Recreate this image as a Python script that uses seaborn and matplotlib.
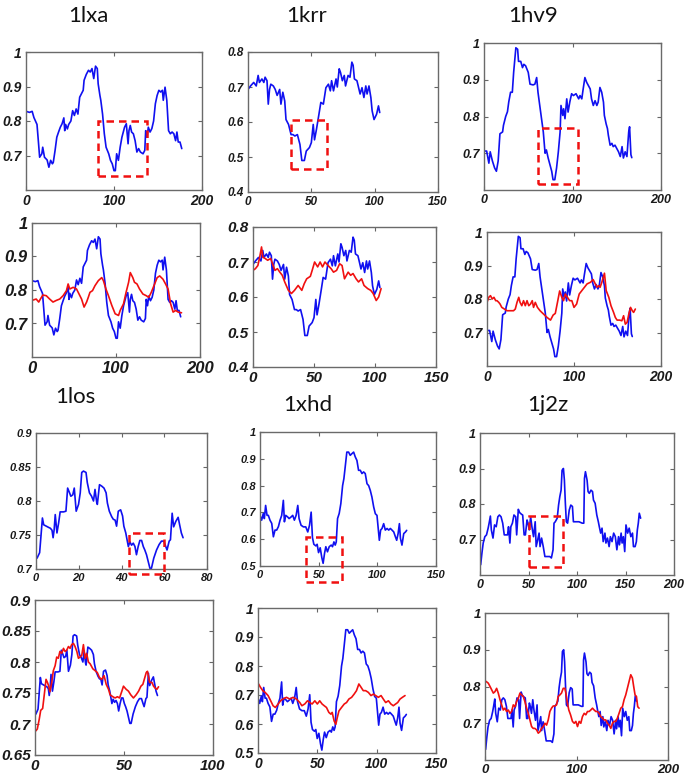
import matplotlib
matplotlib.use("Agg")
import matplotlib.pyplot as plt
from matplotlib.patches import Rectangle
import seaborn as sns
import pandas as pd

# ---- data: (residue, value) ----
lxa_blue = [(0,.828),(4,.825),(7,.828),(9,.81),(12.5,.79),(14,.743),(15.5,.695),(18,.705),(19,.724),(21,.695),(24,.687),(26,.666),(28,.686),(30,.676),(31,.68),(33,.714),(35,.753),(37,.768),(39,.782),(41,.792),(43,.809),(44,.772),(45,.79),(47,.777),(48.5,.79),(51,.80),(53,.83),(55,.816),(57,.835),(59,.82),(61,.869),(63,.879),(65,.889),(66,.918),(68.5,.935),(71,.947),(73,.942),(75,.952),(77,.923),(79,.959),(81,.952),(82,.908),(84,.874),(85,.86),(87,.82),(89,.763),(91,.724),(94,.705),(96,.686),(98,.676),(100,.656),(101.5,.656),(103,.705),(105,.686),(107,.724),(109,.753),(112,.782),(114,.792),(116,.734),(117,.772),(118.5,.787),(120,.768),(122,.763),(124,.743),(126,.71),(128,.72),(130,.71),(133,.705),(135,.715),(136,.772),(137.5,.753),(139,.782),(141,.768),(143,.778),(145,.80),(147,.85),(149,.874),(151,.889),(153,.884),(155,.889),(156,.86),(158,.898),(160,.86),(162,.772),(164,.763),(166,.768),(168,.763),(170,.743),(171.5,.768),(173,.739),(175,.739),(177,.72)]
lxa_red = [(0,.769),(5,.773),(8,.764),(10,.773),(13,.785),(17,.783),(21,.773),(25,.764),(29,.769),(33,.773),(37,.783),(41,.798),(43,.818),(45,.803),(49,.808),(53,.803),(55,.793),(59,.773),(62,.749),(65,.764),(67,.778),(69,.793),(72,.798),(75,.813),(79,.828),(83,.837),(85,.828),(88,.803),(91,.783),(95,.754),(99,.729),(103,.724),(105,.739),(109,.759),(112,.793),(115,.823),(117,.852),(120,.837),(122,.823),(125,.818),(128,.803),(132,.788),(136,.783),(139,.778),(142,.793),(146,.818),(149,.837),(152,.842),(156,.832),(159,.818),(162,.803),(165,.759),(168,.734),(171,.739),(174,.734),(178,.732)]

krr_blue = [(0,.693),(2,.703),(4.5,.713),(6.5,.703),(8,.733),(9,.713),(11,.723),(12.5,.713),(13.5,.728),(15,.718),(16,.651),(17,.693),(18,.708),(20,.703),(21.5,.693),(23,.676),(25,.693),(26,.651),(27.5,.685),(29,.66),(30,.607),(32,.593),(34,.564),(35.5,.564),(37,.56),(39,.564),(41,.536),(42.5,.49),(44.5,.49),(46,.517),(48.5,.527),(50,.541),(51.5,.593),(52.5,.549),(54,.578),(56,.622),(57.5,.656),(59.5,.651),(61.5,.698),(63.5,.708),(65,.689),(66,.718),(67.5,.689),(69.5,.723),(70.5,.70),(72,.752),(73,.742),(74.5,.718),(76,.733),(77,.703),(79,.733),(80.5,.728),(82,.771),(83,.762),(84,.723),(86,.718),(87,.703),(88.5,.68),(90,.698),(91.5,.67),(93,.703),(94,.68),(95.5,.703),(97,.67),(98,.632),(99.5,.607),(101.5,.622),(103,.646),(104,.627)]
krr_red = [(0,.676),(2,.681),(4,.69),(5.5,.714),(7,.743),(8,.714),(10,.71),(12,.705),(14.5,.71),(16.5,.69),(18,.676),(20,.681),(22,.671),(24,.662),(26,.643),(29,.619),(31.5,.61),(34,.619),(37,.633),(40,.619),(42,.638),(44,.652),(47,.659),(48.5,.676),(50.5,.70),(53,.686),(55,.70),(57,.686),(59,.70),(61.5,.69),(64,.681),(66,.671),(68.5,.676),(71,.695),(73,.69),(75,.652),(78,.671),(80,.662),(82,.667),(84.5,.652),(86.5,.643),(89,.652),(91,.633),(94,.624),(96.5,.619),(98.5,.61),(101,.59),(103,.60),(105,.624)]

hv9_blue = [(0.5,.706),(3,.706),(5.5,.673),(7,.704),(9.5,.679),(12,.66),(14,.651),(16,.679),(18,.753),(21,.758),(22,.776),(24.5,.80),(26.5,.813),(28,.84),(30,.866),(32,.866),(33.5,.92),(36,.987),(38,.983),(39,.95),(41.5,.95),(43.5,.933),(45,.942),(47,.938),(50,.92),(52,.888),(55.5,.886),(57.5,.888),(59.5,.906),(61,.866),(63,.83),(65,.794),(67,.758),(69,.70),(70.5,.709),(72.5,.687),(74.5,.669),(76.5,.651),(78,.628),(80,.628),(82,.66),(84,.704),(86,.758),(87,.83),(89,.803),(90,.821),(91.5,.794),(93.5,.848),(95,.812),(97,.84),(99,.862),(101,.857),(104,.862),(107,.848),(108.5,.857),(110.5,.848),(112,.874),(114,.906),(116,.893),(118,.884),(120,.875),(121.5,.848),(123.5,.83),(125.5,.843),(127.5,.83),(129,.839),(131,.879),(133,.866),(135,.839),(136,.803),(138,.78),(139.5,.767),(140.5,.749),(142.5,.722),(144.5,.727),(146,.718),(148,.722),(150,.713),(152,.704),(154,.691),(156,.718),(157.5,.687),(159.5,.704),(161.5,.691),(163.5,.758),(164.5,.772),(166,.696),(167,.688)]
hv9_red = [(0,.79),(2,.805),(4,.81),(6,.80),(8,.805),(10,.795),(11.5,.795),(13.5,.79),(15,.785),(17,.775),(20,.77),(23,.765),(27,.765),(30.5,.765),(32.5,.77),(34.5,.79),(36.5,.805),(38,.79),(40,.78),(42,.795),(44,.78),(46,.795),(48,.78),(50,.785),(52,.795),(53.5,.775),(55.5,.79),(58,.775),(61,.765),(65,.755),(69,.745),(73,.737),(76,.752),(78.5,.757),(81,.79),(83.5,.824),(86,.805),(88,.795),(90,.815),(92.5,.805),(95,.795),(97.5,.795),(100,.775),(103,.785),(106,.815),(109,.825),(112,.835),(115,.845),(119,.85),(122,.858),(124.5,.845),(126.5,.835),(128.5,.84),(130,.835),(132,.85),(135,.877),(137,.825),(140,.805),(142.5,.78),(145.5,.76),(147.5,.745),(149.5,.737),(152.5,.737),(155,.735),(157,.75),(159,.725),(161,.73),(163,.755),(165,.775),(167,.765),(168.5,.76),(170.5,.77)]

los_blue = [(0.5,.716),(1.7,.724),(3,.775),(3.6,.765),(4.8,.763),(6,.761),(6.7,.76),(7.5,.757),(8,.746),(8.5,.758),(9,.78),(9.8,.753),(10.6,.768),(11.3,.784),(12.9,.784),(14,.785),(14.8,.819),(15.7,.812),(16.3,.807),(17.2,.809),(17.9,.819),(18.8,.785),(19.9,.795),(20.7,.812),(21.4,.842),(22.2,.844),(23.4,.842),(24,.827),(25,.812),(26,.807),(26.9,.80),(27.6,.817),(28.4,.798),(28.7,.795),(29.7,.824),(30.7,.822),(31.8,.819),(32.8,.812),(33.4,.797),(34.3,.785),(35.4,.777),(36.2,.773),(37,.772),(37.7,.763),(38.5,.785),(39.6,.787),(40.5,.778),(41.1,.763),(42,.753),(43.2,.733),(43.9,.74),(44.7,.735),(45.5,.738),(46.3,.733),(47,.721),(47.8,.733),(48.6,.742),(49.4,.742),(50.2,.733),(50.9,.728),(51.7,.721),(52.5,.711),(53.3,.701),(54,.701),(55.1,.716),(56.4,.728),(57.6,.736),(58.7,.741),(59.8,.741),(60.7,.733),(61.3,.728),(62.3,.741),(62.9,.743),(63.7,.782),(64.4,.762),(65.4,.77),(66.5,.776),(67.2,.765),(68,.753),(68.8,.746)]
los_red = [(0.5,.689),(1.3,.692),(2.4,.708),(3.2,.722),(4.3,.725),(5,.742),(6.2,.772),(7,.767),(7.7,.761),(8.4,.752),(9.4,.767),(10.3,.786),(11.3,.794),(12.2,.808),(13.1,.806),(14,.817),(15,.814),(16,.822),(16.9,.817),(17.8,.819),(18.8,.825),(19.7,.822),(20.6,.828),(21.6,.83),(22.5,.825),(23.5,.817),(24.4,.806),(25.3,.808),(26.3,.811),(27.2,.828),(28.1,.806),(29,.814),(30,.8),(31,.797),(32.5,.789),(33.8,.786),(35,.783),(36.2,.775),(37.5,.772),(38.8,.778),(40,.764),(41.3,.756),(42.2,.747),(43.7,.744),(45,.742),(46.3,.744),(47.5,.742),(48.8,.753),(49.7,.761),(51.2,.756),(52.5,.753),(53.8,.747),(55.3,.742),(56.8,.747),(58.2,.753),(59.5,.761),(60.6,.764),(61.4,.772),(62.5,.783),(63.2,.785),(64.4,.767),(65.7,.767),(66.6,.761),(67.5,.758),(68.5,.756),(69.4,.76)]

xhd_blue = [(0,.689),(1.4,.671),(2.8,.696),(3.7,.677),(4.8,.726),(6,.689),(7.1,.689),(8.5,.671),(10,.659),(11.4,.609),(12.8,.634),(14.2,.634),(15.7,.647),(17.1,.671),(18.5,.689),(19.9,.745),(20.8,.665),(21.9,.689),(23.6,.683),(24.8,.677),(26.5,.683),(27.9,.689),(29.3,.671),(30.8,.689),(32.2,.726),(33.3,.677),(35,.652),(37,.646),(39,.646),(40.7,.627),(42.2,.652),(43.6,.701),(44.7,.606),(45.9,.581),(47.6,.575),(48.7,.581),(49.9,.55),(51.3,.568),(52.7,.531),(53.8,.51),(55,.547),(56.1,.572),(57.5,.553),(59,.572),(60.7,.578),(61.8,.572),(63,.59),(64.1,.578),(65,.59),(66.1,.677),(67.5,.696),(68.9,.733),(70.4,.80),(71.5,.826),(72.6,.869),(74,.925),(75.5,.925),(76.9,.913),(78.3,.919),(79.8,.925),(81.2,.907),(82.6,.894),(84,.857),(85.5,.857),(86.9,.845),(88.3,.851),(89.7,.845),(91.2,.807),(92.6,.80),(94,.782),(95.4,.757),(96.9,.72),(98.3,.695),(99.7,.689),(101.7,.596),(102.8,.634),(104,.64),(105.4,.658),(106.8,.634),(108.3,.64),(109.7,.634),(111.1,.64),(112.5,.634),(114,.627),(115.4,.609),(116.5,.596),(117.7,.621),(118.8,.658),(119.7,.603),(121,.578),(122.5,.621),(124,.627),(125,.633)]
xhd_red = [(0.5,.738),(2,.727),(4,.715),(6,.709),(8.5,.698),(10.7,.68),(12.7,.663),(14.6,.657),(17,.669),(19,.68),(21,.686),(24,.692),(26.8,.686),(29.6,.692),(32.4,.686),(35.2,.674),(37,.663),(39.4,.669),(41.7,.68),(43.7,.674),(45.6,.669),(47.9,.68),(50,.669),(52,.68),(54,.669),(55.8,.663),(57.7,.657),(59.7,.64),(61.4,.634),(62.5,.64),(64.2,.61),(65.6,.599),(66.8,.622),(68.2,.645),(70.4,.657),(72.7,.669),(74.6,.674),(76.6,.686),(78.9,.692),(81,.703),(83,.715),(85,.738),(86.8,.727),(88.7,.715),(90.7,.715),(93,.709),(95.2,.698),(97.2,.703),(99.2,.698),(101.4,.692),(103.7,.698),(105.6,.686),(107.6,.674),(109.9,.68),(112,.669),(114,.663),(116,.669),(117.7,.674),(119.7,.686),(121.7,.692),(123.9,.698)]

j2z_blue = [(0.7,.629),(2,.662),(3.3,.69),(5,.708),(6.7,.713),(8.4,.732),(9.4,.746),(10.7,.766),(11.7,.727),(13.4,.704),(15,.741),(16.7,.736),(18.4,.764),(20,.769),(21.7,.764),(23.4,.746),(25,.713),(26.8,.713),(28.4,.713),(29.4,.736),(30.8,.69),(31.8,.736),(33.4,.746),(35,.769),(36.8,.764),(37.8,.713),(39.5,.785),(40.8,.776),(42.8,.771),(44,.769),(45.5,.713),(46.8,.713),(48.5,.755),(49.5,.746),(50.8,.727),(52.2,.764),(53.5,.736),(55.2,.708),(56.9,.75),(57.9,.68),(59.5,.699),(60.9,.718),(61.9,.68),(63.5,.704),(65.2,.68),(66.9,.652),(69.6,.652),(71.9,.652),(73.6,.648),(75.3,.671),(76.3,.746),(77.6,.75),(79.6,.76),(81,.797),(82.3,.821),(83.6,.839),(84.6,.895),(86,.90),(87,.867),(88,.802),(89,.75),(90.3,.746),(92,.783),(93.6,.797),(95.3,.793),(96.3,.75),(98.7,.75),(102,.75),(105.4,.746),(107,.746),(107.7,.872),(108.7,.891),(110.4,.867),(111.4,.835),(112.7,.83),(114.4,.839),(116,.835),(117,.811),(118.7,.802),(120.4,.769),(122,.75),(123,.736),(124.4,.718),(125.8,.732),(127,.694),(128.8,.718),(129.8,.69),(131.4,.704),(133.1,.68),(134.4,.708),(136.1,.694),(137.8,.718),(139.5,.708),(141.1,.671),(142.8,.708),(143.8,.685),(145.5,.718),(146.5,.69),(147.8,.708),(149.2,.666),(150.5,.741),(152.2,.718),(153.8,.732),(155.5,.708),(157.2,.718),(158.2,.68),(159.9,.68),(161.2,.694),(162.2,.727),(163.2,.746),(164.2,.774),(165.6,.76)]
j2z_red = [(1.1,.814),(3.6,.809),(5.5,.80),(7.3,.791),(9.1,.782),(10.9,.786),(12.7,.795),(14.5,.782),(16.4,.764),(18.2,.75),(20,.736),(21.8,.741),(23.6,.732),(25.5,.736),(27.3,.727),(29.1,.732),(30.9,.75),(32.7,.745),(34.5,.759),(36.4,.768),(38.2,.782),(40,.777),(41.8,.773),(43.6,.759),(45.5,.741),(47.3,.727),(49.1,.709),(50.9,.691),(52.7,.686),(54.5,.686),(56.4,.682),(58.2,.673),(60,.677),(61.8,.686),(63.6,.691),(65.5,.70),(67.3,.695),(69.1,.709),(70.9,.732),(72.7,.741),(74.5,.747),(76.4,.747),(78.2,.75),(80,.773),(81.8,.777),(83.6,.782),(85.5,.795),(87.3,.795),(88.4,.782),(89.8,.759),(91.6,.736),(93.5,.723),(95.6,.705),(97.5,.70),(99.3,.705),(101.1,.691),(102.9,.705),(104.7,.70),(106.5,.718),(108.4,.727),(110.2,.723),(112,.732),(113.8,.732),(115.6,.736),(117.5,.741),(119.3,.736),(121.1,.732),(122.9,.732),(124.7,.727),(126.5,.718),(128.4,.714),(130.2,.709),(132,.709),(133.8,.70),(135.6,.695),(137.5,.686),(139.3,.70),(141.1,.705),(142.9,.705),(144.7,.714),(146.5,.727),(148.4,.741),(150.2,.745),(152,.764),(153.8,.777),(155.6,.795),(157.5,.814),(159.3,.832),(161.1,.823),(162.5,.80),(164,.777),(165.5,.773),(166.9,.745),(168.4,.741)]

# highlighted regions (x0, x1, y0, y1)
lxa_box = (82, 137, 0.64, 0.80)
krr_box = (34, 62, 0.466, 0.607)
hv9_box = (61, 106, 0.616, 0.768)
los_box = (43.5, 60, 0.693, 0.753)
xhd_box = (39, 70, 0.44, 0.61)
j2z_box = (50, 86, 0.623, 0.766)

titles = ["1lxa", "1krr", "1hv9", "1los", "1xhd", "1j2z"]

BLUE = "#1010f0"
RED = "#f01010"

sns.set_theme(style="white")
plt.rcParams["font.family"] = ["Liberation Sans", "DejaVu Sans"]

W, H = 686, 776
fig = plt.figure(figsize=(W / 100, H / 100), dpi=100)


def panel(px, series, xlim, xticks, ylim, yticks, fs, hl=None):
    l, t, r, b = px
    ax = fig.add_axes([l / W, 1 - b / H, (r - l) / W, (b - t) / H])
    for pts, color in series:
        df = pd.DataFrame(pts, columns=["res", "val"])
        sns.lineplot(data=df, x="res", y="val", ax=ax, color=color, lw=1.2,
                     estimator=None, sort=False)
    if hl is not None:
        x0, x1, y0, y1 = hl
        ax.add_patch(Rectangle((x0, y0), x1 - x0, y1 - y0, fill=False,
                               edgecolor=RED, lw=1.8, ls=(0, (3, 2)),
                               clip_on=False, zorder=5))
    ax.set_xlim(*xlim)
    ax.set_ylim(*ylim)
    ax.set_xlabel("")
    ax.set_ylabel("")
    ax.set_xticks(xticks)
    ax.set_yticks(yticks)
    tick_font = dict(fontsize=fs, fontweight="bold", fontstyle="italic",
                     color="#1a1a1a")
    ax.set_xticklabels([f"{v:g}" for v in xticks], **tick_font)
    ax.set_yticklabels([f"{v:g}" for v in yticks], **tick_font)
    ax.tick_params(direction="in", length=3, width=0.8, color="#666666",
                   top=True, right=True, bottom=True, left=True, pad=3)
    for s in ax.spines.values():
        s.set_color("#6a6a6a")
        s.set_linewidth(1.0)
    return ax


y_top = [0.7, 0.8, 0.9, 1]
y_krr = [0.4, 0.5, 0.6, 0.7, 0.8]
y_xhd = [0.5, 0.6, 0.7, 0.8, 0.9, 1]

# row 1: native structures with the highlighted segment
panel((26, 52, 202, 190), [(lxa_blue, BLUE)], (0, 200), [0, 100, 200],
      (0.6, 1), y_top, 10, lxa_box)
panel((248, 52, 438, 192), [(krr_blue, BLUE)], (0, 150), [0, 50, 100, 150],
      (0.4, 0.8), y_krr, 8.5, krr_box)
panel((484, 43, 661, 190), [(hv9_blue, BLUE)], (0, 200), [0, 100, 200],
      (0.6, 1), y_top, 9, hv9_box)

# row 2: blue vs red
panel((32, 223, 200, 357), [(lxa_blue, BLUE), (lxa_red, RED)], (0, 200),
      [0, 100, 200], (0.6, 1), y_top, 12)
panel((253, 227, 436, 367), [(krr_blue, BLUE), (krr_red, RED)], (0, 150),
      [0, 50, 100, 150], (0.4, 0.8), y_krr, 11)
panel((487, 232, 661, 366), [(hv9_blue, BLUE), (hv9_red, RED)], (0, 200),
      [0, 100, 200], (0.6, 1), y_top, 10)

# row 3
panel((36, 433, 207, 569), [(los_blue, BLUE)], (0, 80), [0, 20, 40, 60, 80],
      (0.7, 0.9), [0.7, 0.75, 0.8, 0.85, 0.9], 8, los_box)
panel((260, 432, 436, 566), [(xhd_blue, BLUE)], (0, 150), [0, 50, 100, 150],
      (0.5, 1), y_xhd, 8, xhd_box)
panel((480, 433, 674, 575), [(j2z_blue, BLUE)], (0, 200),
      [0, 50, 100, 150, 200], (0.6, 1), y_top, 9, j2z_box)

# row 4
panel((35, 600, 213, 755), [(los_blue, BLUE), (los_red, RED)], (0, 100),
      [0, 50, 100], (0.65, 0.9), [0.65, 0.7, 0.75, 0.8, 0.85, 0.9], 11)
panel((258, 608, 436, 753), [(xhd_blue, BLUE), (xhd_red, RED)], (0, 150),
      [0, 50, 100, 150], (0.5, 1), y_xhd, 10)
panel((485, 613, 668, 760), [(j2z_blue, BLUE), (j2z_red, RED)], (0, 200),
      [0, 100, 200], (0.6, 1), y_top, 9.5)

# panel titles
title_pos = [(88, 16), (307, 16), (533, 16), (75, 397), (308, 405), (548, 405)]
for name, (tx, ty) in zip(titles, title_pos):
    fig.text(tx / W, 1 - ty / H, name, ha="center", va="center",
             fontsize=16, family=["Lato", "DejaVu Sans"], color="#111111")

fig.savefig("out.png", dpi=100)
